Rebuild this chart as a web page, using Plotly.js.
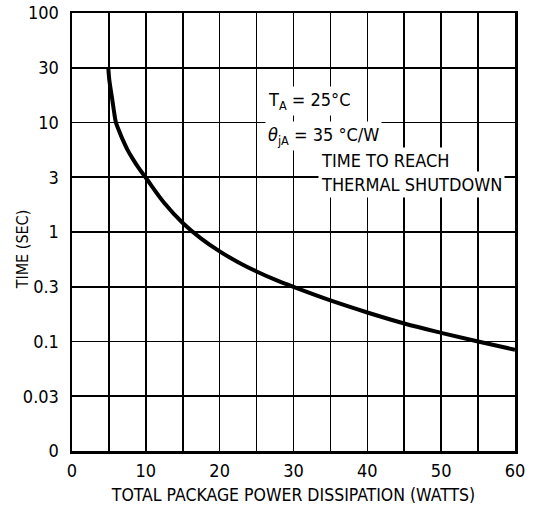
<!DOCTYPE html>
<html>
<head>
<meta charset="utf-8">
<script src="https://cdn.plot.ly/plotly-3.0.1.min.js"></script>
<style>html,body{margin:0;padding:0;background:#fff;}#chart{width:542px;height:516px;}</style>
</head>
<body>
<div id="chart"></div>
<script>
// Power dissipation (W) and time to thermal shutdown (s)
const powerW = [4.92, 5.05, 5.28, 5.46, 5.69, 5.95, 6.37, 6.87, 7.5, 8.17, 9.0, 10, 12.5, 15, 17.5, 20, 22.5, 25, 27.5, 30, 35, 40, 45, 50, 55, 60];
const timeSec = [31.6, 24.6, 19.3, 16.1, 12.6, 10.0, 8.41, 6.97, 5.66, 4.73, 3.87, 3.13, 1.84, 1.21, 0.87, 0.665, 0.53, 0.436, 0.367, 0.315, 0.237, 0.184, 0.146, 0.12, 0.10, 0.084];

const xTickVals = [0, 5, 10, 15, 20, 25, 30, 35, 40, 45, 50, 55, 60];
const xTickText = ["0", "", "10", "", "20", "", "30", "", "40", "", "50", "", "60"];
const yTickVals = [0.01, 0.0316, 0.1, 0.316, 1, 3.16, 10, 31.6, 100];
const yTickText = ["0", "0.03", "0.1", "0.3", "1", "3", "10", "30", "100"];

const FONT = "'Liberation Sans Narrow', 'Arial Narrow', 'DejaVu Sans Condensed', 'Liberation Sans', sans-serif";

const trace = {
  x: powerW, y: timeSec, type: 'scatter', mode: 'lines',
  line: {color: '#000', width: 4, shape: 'spline', smoothing: 1},
  hoverinfo: 'skip'
};

const annFont = {family: FONT, size: 18, color: '#000'};
const layout = {
  width: 542, height: 516,
  margin: {l: 72, r: 27, t: 13, b: 65},
  paper_bgcolor: '#fff', plot_bgcolor: '#fff',
  showlegend: false,
  font: {family: FONT, size: 17, color: '#000'},
  xaxis: {
    range: [0, 60], tickvals: xTickVals, ticktext: xTickText,
    showgrid: true, gridcolor: '#000', gridwidth: 1.6,
    showline: true, mirror: true, linecolor: '#000', linewidth: 2.5,
    zeroline: false, ticks: '', ticklabelstandoff: 2,
    tickfont: {family: FONT, size: 18, color: '#000'},
    title: {text: 'TOTAL PACKAGE POWER DISSIPATION (WATTS)', font: {family: FONT, size: 17.5, color: '#000'}, standoff: 9}
  },
  yaxis: {
    type: 'log', range: [-2, 2], tickvals: yTickVals, ticktext: yTickText,
    showgrid: true, gridcolor: '#000', gridwidth: 1.6,
    showline: true, mirror: true, linecolor: '#000', linewidth: 2.5,
    zeroline: false, ticks: '', ticklabelstandoff: 7,
    tickfont: {family: FONT, size: 18, color: '#000'}
  },
  annotations: [
    {x: -0.111, y: 0.46, xref: 'paper', yref: 'paper', xanchor: 'center', yanchor: 'middle', showarrow: false,
     textangle: -90, text: 'TIME (SEC)', font: {family: FONT, size: 16, color: '#000'}},
    {x: 26.1, y: 1.20, xref: 'x', yref: 'y', xanchor: 'left', yanchor: 'middle', showarrow: false,
     text: 'T<sub>A</sub> = 25°C', font: annFont, bgcolor: '#fff', borderpad: 2},
    {x: 26.1, y: 0.875, xref: 'x', yref: 'y', xanchor: 'left', yanchor: 'middle', showarrow: false,
     text: '<i>θ</i><sub>jA</sub> = 35 °C/W', font: annFont, bgcolor: '#fff', borderpad: 2},
    {x: 33.3, y: 0.655, xref: 'x', yref: 'y', xanchor: 'left', yanchor: 'middle', showarrow: false,
     text: 'TIME TO REACH', font: annFont, bgcolor: '#fff', borderpad: 2},
    {x: 33.3, y: 0.436, xref: 'x', yref: 'y', xanchor: 'left', yanchor: 'middle', showarrow: false,
     text: 'THERMAL SHUTDOWN', font: annFont, bgcolor: '#fff', borderpad: 2}
  ]
};

Plotly.newPlot('chart', [trace], layout, {displayModeBar: false, staticPlot: true});
</script>
</body>
</html>
